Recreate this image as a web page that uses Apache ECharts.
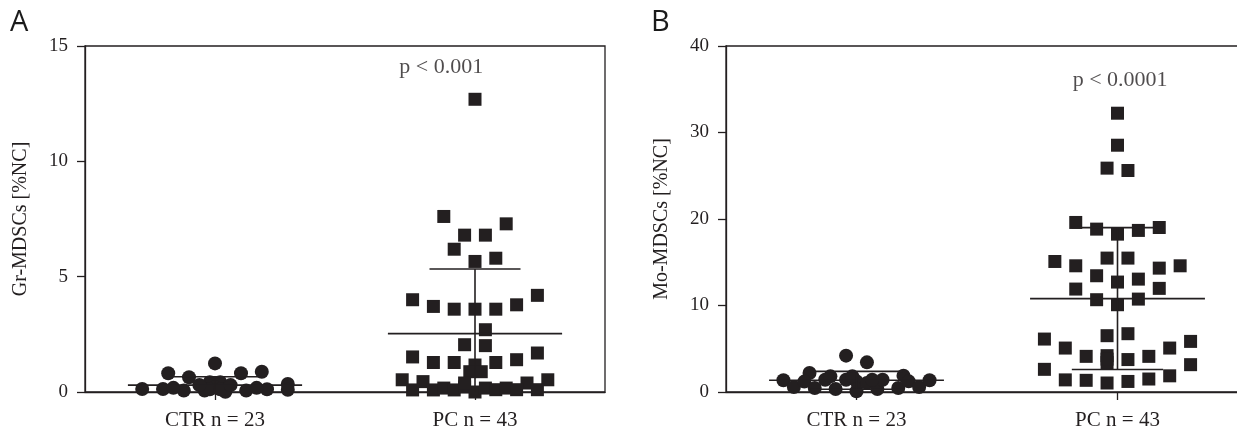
<!DOCTYPE html>
<html>
<head>
<meta charset="utf-8">
<script src="https://cdn.jsdelivr.net/npm/echarts@6/dist/echarts.min.js"></script>
<style>
  html, body { margin: 0; padding: 0; background: #fff; }
  #chart { width: 1237px; height: 430px; }
</style>
</head>
<body>
<div id="chart"></div>
<script>
// groups on the x axis
const categories = ['CTR n = 23', 'PC n = 43']

// Gr-MDSCs [%NC], panel A
const ctrGrValues = [0.13, 0.13, 0.81, 0.06, 0.64, 0.06, 1.24, 0.42, 0.42, 0.01, 0.81, 0.06, 0.88, 0.12, 0.35, 0.10, 0.22, 0.12, 0.12, 0.30, 0.30, 0.18, 0.18]
const ctrGrCols   = [-7, -5, -4.5, -3, -2.5, -1, 0, -0.5, 0.5, 1, 2.5, 3, 4.5, 5, 7, 7, 0, -0.5, 0.5, -1.5, 1.5, -4, 4]
const pcGrValues  = [12.69, 7.61, 7.29, 6.80, 6.80, 6.19, 5.80, 5.66, 4.00, 4.19, 3.71, 3.59, 3.59, 3.59, 3.78, 2.70, 2.05, 2.01, 1.52, 1.28,
                     1.28, 1.28, 1.40, 1.69, 1.17, 0.88, 0.88, 0.53, 0.45, 0.53, 0.39, 0.09, 0.09, 0.17, 0.09, 0.22, 0.00, 0.17, 0.10, 0.17,
                     0.10, 0.10, 0.39]
const pcGrCols    = [0, -3, 3, -1, 1, -2, 2, 0, -6, 6, -4, -2, 0, 2, 4, 1, -1, 1, -6, -4,
                     -2, 2, 4, 6, 0, -0.5, 0.6, -7, -5, 7, 5, -6, -4, -3, -2, -1, 0, 1, 2, 3,
                     4, 6, -1]
// mean, sd
const ctrGrStats = [0.30, 0.36]
const pcGrStats  = [2.53, 2.80]

// Mo-MDSCs [%NC], panel B
const ctrMoValues = [4.20, 3.43, 1.35, 0.58, 2.19, 1.20, 0.46, 1.42, 1.81, 0.35, 1.42, 0.08, 1.23, 1.04, 0.35, 1.42, 0.46, 1.89, 1.23, 0.58, 1.35, 1.81, 1.42]
const ctrMoCols   = [-1, 1, -7, -6, -4.5, -5, -4, -3, -2.5, -2, -1, 0, 0, 1, 2, 2.5, 4, 4.5, 5, 6, 7, -0.4, 1.5]
const pcMoValues  = [32.23, 28.53, 25.88, 25.61, 19.60, 18.83, 18.25, 18.68, 19.02, 15.09, 14.59, 13.44, 15.48, 15.48, 14.32, 14.59, 12.71, 13.05, 11.90, 11.98,
                     10.67, 10.09, 10.74, 6.12, 6.51, 6.74, 5.08, 5.85, 5.08, 4.12, 4.20, 3.40, 3.75, 4.12, 2.62, 3.16, 1.40, 1.35, 1.04, 1.22,
                     1.50, 1.87, 3.80]
const pcMoCols    = [0, 0, -1, 1, -4, -2, 0, 2, 4, -6, -4, -2, -1, 1, 4, 6, 0, 2, -4, 4,
                     -2, 0, 2, -7, -1, 1, -5, 7, 5, -3, -1, -1, 1, 3, -7, 7, -5, -3, -1, 1,
                     3, 5, -1]
const ctrMoStats = [1.35, 1.04]
const pcMoStats  = [10.8, 8.2]

const pValues = ['p < 0.001', 'p < 0.0001']

const INK = '#231f20'
const SERIF = '"Liberation Serif", "Times New Roman", serif'
const STEP = 0.04       // column spacing of the dot plot, in category widths
const MEAN_HALF = 0.335
const CAP_HALF = 0.175

function points(cat, vals, cols) {
  return vals.map((v, i) => [cat + 0.5 + cols[i] * STEP, v])
}

function renderStats(params, api) {
  const x = api.value(0), m = api.value(1), s = api.value(2)
  const seg = (a, b) => ({
    type: 'line',
    shape: { x1: a[0], y1: a[1], x2: b[0], y2: b[1] },
    style: { stroke: INK, lineWidth: 1.6 }
  })
  return {
    type: 'group',
    children: [
      seg(api.coord([x - MEAN_HALF, m]), api.coord([x + MEAN_HALF, m])),
      seg(api.coord([x, m - s]), api.coord([x, m + s])),
      seg(api.coord([x - CAP_HALF, m + s]), api.coord([x + CAP_HALF, m + s])),
      seg(api.coord([x - CAP_HALF, m - s]), api.coord([x + CAP_HALF, m - s]))
    ]
  }
}

function xAxis(idx) {
  return {
    gridIndex: idx, type: 'value', min: 0, max: 2,
    splitLine: { show: false },
    axisLine: { onZero: false, lineStyle: { color: INK, width: 1.3 } },
    axisTick: { customValues: [0.5, 1.5], length: 8, lineStyle: { color: INK, width: 1.3 } },
    axisLabel: {
      customValues: [0.5, 1.5], margin: 18,
      formatter: v => categories[Math.round(v - 0.5)],
      fontFamily: SERIF, fontSize: 21, color: INK
    }
  }
}

function yAxis(idx, max, interval, name) {
  return {
    gridIndex: idx, type: 'value', min: 0, max: max, interval: interval,
    name: name, nameLocation: 'middle', nameGap: 54,
    nameTextStyle: { fontFamily: SERIF, fontSize: 20, color: INK },
    splitLine: { show: false },
    axisLine: { show: true, lineStyle: { color: INK, width: 1.3 } },
    axisTick: { show: true, length: 8, lineStyle: { color: INK, width: 1.3 } },
    axisLabel: { margin: 17, fontFamily: SERIF, fontSize: 19, color: INK }
  }
}

function dots(idx, data, symbol, size) {
  return {
    type: 'scatter', xAxisIndex: idx, yAxisIndex: idx,
    data: data, symbol: symbol, symbolSize: size,
    itemStyle: { color: INK, opacity: 1 }, z: 3
  }
}

function stats(idx, a, b) {
  return {
    type: 'custom', xAxisIndex: idx, yAxisIndex: idx, clip: true,
    renderItem: renderStats, z: 4,
    encode: { x: 0, y: 1 },
    data: [[0.5, a[0], a[1]], [1.5, b[0], b[1]]]
  }
}

function pText(idx, coord, text) {
  return {
    type: 'scatter', xAxisIndex: idx, yAxisIndex: idx,
    symbolSize: 0, data: [coord],
    label: { show: true, position: 'inside', formatter: text, fontFamily: SERIF, fontSize: 22, color: INK }
  }
}

const chart = echarts.init(document.getElementById('chart'))
chart.setOption({
  animation: false,
  backgroundColor: '#fff',
  grid: [
    { left: 85, top: 46, width: 520, height: 346, outerBoundsMode: 'none', show: true, borderColor: INK, borderWidth: 1.3 },
    { left: 726, top: 46, width: 522, height: 346, outerBoundsMode: 'none', show: true, borderColor: INK, borderWidth: 1.3 }
  ],
  xAxis: [xAxis(0), xAxis(1)],
  yAxis: [yAxis(0, 15, 5, 'Gr-MDSCs [%NC]'), yAxis(1, 40, 10, 'Mo-MDSCs [%NC]')],
  graphic: [
    { type: 'text', left: 10, top: 8, style: { text: 'A', font: '29px "Open Sans", sans-serif', fill: '#1a1a1a' } },
    { type: 'text', left: 651, top: 8, style: { text: 'B', font: '29px "Open Sans", sans-serif', fill: '#1a1a1a' } }
  ],
  series: [
    dots(0, points(0, ctrGrValues, ctrGrCols), 'circle', 14),
    dots(0, points(1, pcGrValues, pcGrCols), 'rect', 13),
    stats(0, ctrGrStats, pcGrStats),
    pText(0, [1.37, 14.1], pValues[0]),
    dots(1, points(0, ctrMoValues, ctrMoCols), 'circle', 14),
    dots(1, points(1, pcMoValues, pcMoCols), 'rect', 13),
    stats(1, ctrMoStats, pcMoStats),
    pText(1, [1.51, 36.1], pValues[1])
  ]
})
</script>
</body>
</html>
